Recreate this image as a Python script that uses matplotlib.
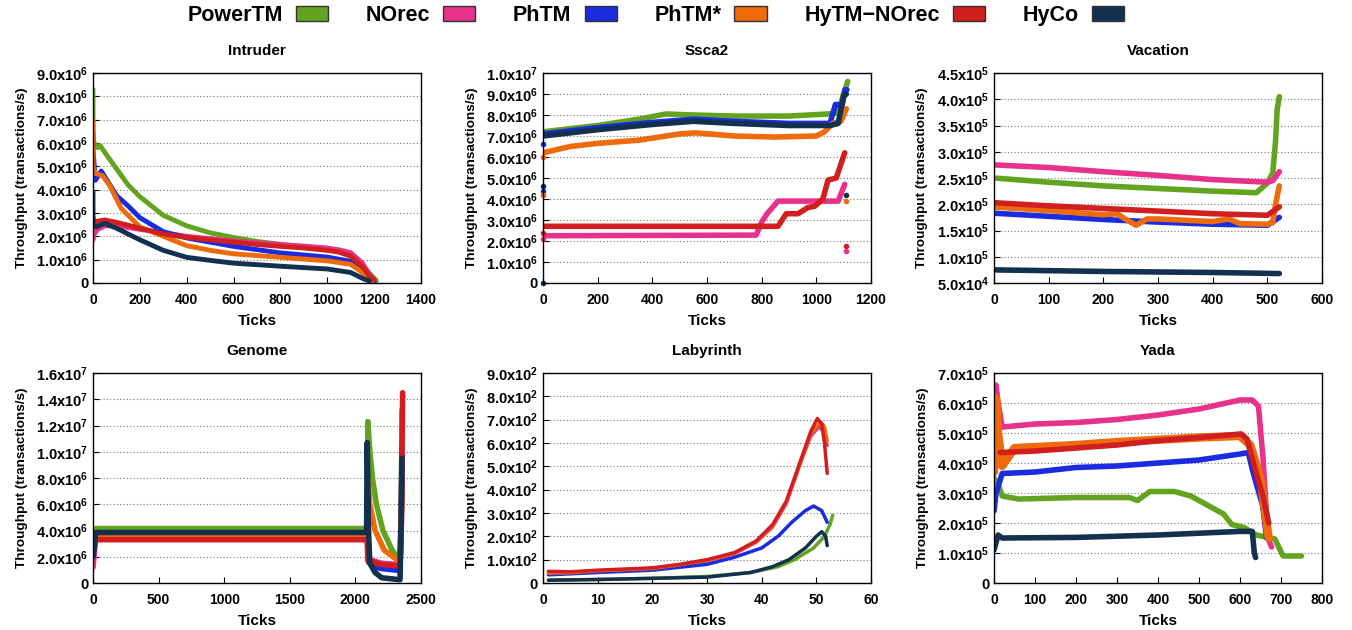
import numpy as np
import matplotlib
matplotlib.use('Agg')
import matplotlib.pyplot as plt
from matplotlib.patches import Patch
from matplotlib.ticker import FuncFormatter, MultipleLocator

plt.rcParams['font.family'] = ['Liberation Sans', 'DejaVu Sans']
plt.rcParams['font.weight'] = 'bold'
plt.rcParams['mathtext.fontset'] = 'custom'
plt.rcParams['mathtext.bf'] = 'Liberation Sans:bold'
plt.rcParams['mathtext.rm'] = 'Liberation Sans:bold'
plt.rcParams['mathtext.default'] = 'bf'

names = ['PowerTM', 'NOrec', 'PhTM', 'PhTM*', 'HyTM\u2212NOrec', 'HyCo']
colors = ['#62a420', '#e8318a', '#1a2be0', '#ee6a0a', '#d11f1f', '#13304f']

# ---- Intruder (x: ticks, y: 1e6 tx/s)
int_pow_x = [0, 0, 0, 5, 20, 30, 50, 100, 150, 200, 300, 400, 500, 600, 700, 800, 900, 1000, 1050, 1100, 1150, 1200, 1210]
int_pow_y = [8.3, 7.1, 6.2, 6.0, 5.8, 5.9, 5.6, 4.9, 4.2, 3.7, 2.9, 2.45, 2.15, 1.95, 1.78, 1.66, 1.55, 1.42, 1.35, 1.2, 0.75, 0.2, 0.1]
int_nor_x = [0, 5, 20, 50, 100, 200, 300, 400, 500, 600, 700, 800, 900, 1000, 1050, 1100, 1150, 1190, 1200]
int_nor_y = [1.85, 2.1, 2.3, 2.45, 2.45, 2.3, 2.15, 2.0, 1.9, 1.8, 1.72, 1.65, 1.58, 1.5, 1.42, 1.3, 0.85, 0.2, 0.15]
int_phtm_x = [0, 0, 10, 35, 60, 100, 150, 200, 300, 400, 600, 800, 1000, 1100, 1150, 1200]
int_phtm_y = [6.4, 5.7, 4.4, 4.8, 4.4, 3.75, 3.3, 2.8, 2.2, 1.93, 1.57, 1.29, 1.11, 0.93, 0.5, 0.07]
int_phs_x = [0, 0, 10, 40, 70, 120, 200, 300, 400, 500, 600, 800, 1000, 1100, 1170, 1195]
int_phs_y = [7.0, 5.0, 4.7, 4.6, 4.2, 3.2, 2.4, 2.0, 1.6, 1.4, 1.25, 1.1, 0.95, 0.8, 0.3, 0.1]
int_hyn_x = [0, 5, 20, 50, 100, 200, 300, 400, 500, 600, 700, 800, 900, 1000, 1050, 1100, 1150, 1180, 1200]
int_hyn_y = [2.8, 2.6, 2.65, 2.7, 2.6, 2.35, 2.1, 1.95, 1.85, 1.75, 1.65, 1.57, 1.5, 1.4, 1.32, 1.15, 0.7, 0.3, 0.15]
int_hyco_x = [0, 0, 10, 50, 100, 200, 300, 400, 500, 600, 800, 1000, 1100, 1150, 1180]
int_hyco_y = [3.9, 2.5, 2.4, 2.55, 2.35, 1.85, 1.4, 1.1, 0.97, 0.85, 0.72, 0.6, 0.45, 0.2, 0.08]

# ---- Ssca2 (1e6)
ss_pow_x = [0, 200, 350, 450, 550, 700, 900, 1040, 1080, 1100, 1115]
ss_pow_y = [7.2, 7.5, 7.8, 8.05, 8.0, 7.95, 7.95, 8.05, 8.1, 9.0, 9.6]
ss_nor_x = [0, 780, 800, 820, 860, 1080, 1104]
ss_nor_y = [2.25, 2.28, 2.9, 3.3, 3.9, 3.9, 4.7]
ss_phtm_x = [0, 200, 400, 550, 700, 900, 1050, 1070, 1095, 1105, 1112]
ss_phtm_y = [7.1, 7.4, 7.65, 7.8, 7.7, 7.6, 7.6, 8.5, 8.5, 9.2, 9.2]
ss_phs_x = [0, 100, 200, 350, 500, 560, 700, 850, 1000, 1030, 1060, 1090, 1110]
ss_phs_y = [6.2, 6.5, 6.65, 6.8, 7.1, 7.15, 7.0, 6.95, 7.0, 7.2, 7.6, 7.7, 8.3]
ss_hyn_x = [0, 860, 890, 933, 970, 994, 1024, 1043, 1073, 1104]
ss_hyn_y = [2.7, 2.7, 3.3, 3.3, 3.6, 3.65, 4.0, 4.9, 5.0, 6.2]
ss_hyco_x = [0, 200, 400, 550, 700, 900, 1050, 1080, 1100, 1110]
ss_hyco_y = [7.0, 7.3, 7.55, 7.7, 7.6, 7.5, 7.5, 7.6, 8.9, 9.0]
# stray samples (series index, x, y)
ss_out_s = [5, 5, 2, 2, 3, 3, 4, 1, 5, 3, 4, 1]
ss_out_x = [0, 0, 0, 0, 0, 0, 0, 0, 1110, 1110, 1110, 1110]
ss_out_y = [0.0, 4.6, 4.4, 6.6, 4.2, 6.0, 2.4, 2.1, 4.2, 3.9, 1.75, 1.5]

# ---- Vacation (1e5)
va_pow_x = [0, 100, 200, 300, 400, 480, 500, 510, 515, 518, 522]
va_pow_y = [2.5, 2.42, 2.35, 2.3, 2.25, 2.22, 2.4, 2.6, 3.2, 3.8, 4.05]
va_nor_x = [0, 100, 200, 300, 400, 500, 510, 522]
va_nor_y = [2.75, 2.7, 2.62, 2.55, 2.47, 2.42, 2.45, 2.62]
va_phtm_x = [0, 100, 200, 300, 400, 500, 522]
va_phtm_y = [1.83, 1.77, 1.71, 1.66, 1.62, 1.6, 1.75]
va_phs_x = [0, 100, 200, 225, 240, 260, 280, 300, 400, 430, 450, 500, 510, 515, 522]
va_phs_y = [1.95, 1.88, 1.8, 1.82, 1.72, 1.6, 1.72, 1.72, 1.67, 1.72, 1.63, 1.62, 1.65, 2.0, 2.35]
va_hyn_x = [0, 100, 200, 300, 400, 500, 522]
va_hyn_y = [2.03, 1.97, 1.92, 1.87, 1.82, 1.79, 1.95]
va_hyco_x = [0, 200, 400, 522]
va_hyco_y = [0.75, 0.72, 0.7, 0.68]

# ---- Genome (1e6)
ge_pow_x = [0, 20, 2090, 2095, 2110, 2130, 2160, 2210, 2280, 2340, 2350, 2355]
ge_pow_y = [3.5, 4.15, 4.15, 12.3, 10.0, 8.0, 6.0, 4.0, 2.5, 1.7, 6.5, 13.2]
ge_nor_x = [0, 20, 2090, 2100, 2200, 2340, 2350, 2358]
ge_nor_y = [1.2, 3.35, 3.45, 1.8, 1.5, 1.4, 4.5, 8.0]
ge_phtm_x = [0, 20, 2090, 2100, 2150, 2200, 2340, 2350, 2355]
ge_phtm_y = [2.0, 3.75, 3.75, 1.6, 1.2, 1.1, 0.95, 6.0, 10.3]
ge_phs_x = [0, 20, 2090, 2095, 2110, 2150, 2220, 2340, 2350, 2355]
ge_phs_y = [2.5, 3.5, 3.5, 7.9, 6.0, 4.0, 2.5, 1.6, 5.5, 7.0]
ge_hyn_x = [0, 20, 2090, 2095, 2200, 2340, 2350, 2360]
ge_hyn_y = [2.5, 3.3, 3.3, 1.7, 1.4, 1.3, 4.5, 14.5]
ge_hyco_x = [0, 20, 2085, 2090, 2100, 2110, 2150, 2200, 2340, 2350, 2355]
ge_hyco_y = [2.0, 3.85, 3.85, 10.7, 4.0, 1.5, 0.8, 0.4, 0.25, 5.5, 9.5]

# ---- Labyrinth (tx/s)
lab_pow_x = [1, 10, 20, 30, 38, 43, 46, 49.5, 51.5, 52.5, 53]
lab_pow_y = [12, 15, 20, 28, 45, 70, 100, 150, 200, 250, 290]
lab_nor_x = [1, 5, 10, 20, 25, 30, 35, 39, 42, 44.5, 46, 47.5, 49, 50.5, 51.3, 52]
lab_nor_y = [45, 45, 52, 62, 76, 95, 125, 175, 240, 340, 440, 540, 630, 670, 650, 590]
lab_phtm_x = [1, 10, 20, 30, 35, 40, 43, 45.5, 48, 49.5, 51, 52]
lab_phtm_y = [35, 45, 55, 80, 110, 150, 200, 260, 310, 330, 310, 260]
lab_phs_x = [1, 5, 10, 20, 25, 30, 35, 39, 42, 44.5, 46, 47.5, 49, 50.8, 51.5, 52]
lab_phs_y = [42, 44, 52, 62, 78, 97, 127, 178, 245, 345, 445, 545, 640, 690, 670, 610]
lab_hyn_x = [1, 5, 10, 20, 25, 30, 35, 39, 42, 44.5, 46, 47.5, 49, 50.2, 51, 51.5, 52]
lab_hyn_y = [50, 48, 55, 65, 80, 100, 130, 180, 250, 350, 450, 550, 650, 705, 680, 600, 470]
lab_hyco_x = [1, 10, 20, 30, 38, 42, 45, 48, 50, 51, 51.7, 52]
lab_hyco_y = [12, 15, 20, 25, 45, 70, 100, 150, 200, 220, 200, 160]

# ---- Yada (1e5)
ya_pow_x = [0, 10, 20, 60, 200, 330, 350, 380, 440, 480, 520, 560, 580, 610, 640, 685, 705, 750]
ya_pow_y = [3.5, 3.3, 2.9, 2.8, 2.85, 2.85, 2.75, 3.05, 3.05, 2.9, 2.6, 2.3, 1.95, 1.85, 1.6, 1.47, 0.9, 0.9]
ya_nor_x = [0, 5, 10, 20, 100, 200, 300, 400, 500, 600, 630, 645, 652, 656, 668, 677]
ya_nor_y = [5.0, 6.6, 6.0, 5.2, 5.3, 5.35, 5.45, 5.6, 5.8, 6.1, 6.1, 5.9, 4.8, 4.2, 1.5, 1.2]
ya_phtm_x = [0, 5, 20, 100, 200, 300, 400, 500, 600, 620, 630, 640, 655, 665]
ya_phtm_y = [2.4, 3.0, 3.65, 3.7, 3.85, 3.9, 4.0, 4.1, 4.3, 4.35, 3.8, 3.3, 2.6, 1.5]
ya_phs_x = [0, 5, 10, 20, 50, 200, 300, 500, 600, 625, 650, 660, 670]
ya_phs_y = [3.7, 6.15, 5.0, 3.9, 4.5, 4.6, 4.7, 4.85, 4.9, 4.6, 3.5, 2.5, 1.5]
ya_hyn_x = [15, 100, 200, 300, 400, 500, 603, 617, 635, 644, 656, 670]
ya_hyn_y = [4.35, 4.4, 4.5, 4.6, 4.75, 4.85, 4.97, 4.8, 3.9, 3.45, 2.9, 2.0]
ya_hyco_x = [0, 10, 20, 200, 400, 600, 630, 635, 638]
ya_hyco_y = [1.1, 1.6, 1.5, 1.52, 1.6, 1.72, 1.72, 1.0, 0.85]


def sci(v, pos):
    if v <= 0:
        return '0'
    e = int(np.floor(np.log10(v * 1.0000001)))
    return '%.1fx10$^{%d}$' % (v / 10**e, e)


def panel(ax, title, xs, ys, scale, ylim, ystep, xmax, xstep, lws):
    for x, y, c, lw in zip(xs, ys, colors, lws):
        ax.plot(x, np.array(y) * scale, color=c, lw=lw,
                solid_capstyle='round', solid_joinstyle='round')
    ax.set_xlim(0, xmax)
    ax.set_ylim(*ylim)
    ax.xaxis.set_major_locator(MultipleLocator(xstep))
    ax.yaxis.set_major_locator(MultipleLocator(ystep))
    ax.yaxis.set_major_formatter(FuncFormatter(sci))
    ax.grid(axis='y', color='#777777', linestyle=(0, (1, 2)), lw=0.8)
    ax.set_axisbelow(True)
    ax.tick_params(direction='in', length=4, labelsize=10.5)
    ax.tick_params(axis='x', pad=7, labelsize=10)
    for s in ax.spines.values():
        s.set_linewidth(1.0)
    ax.set_title(title, fontsize=11, fontweight='bold', pad=13)
    ax.set_xlabel('Ticks', fontsize=11, fontweight='bold', labelpad=5)
    ax.set_ylabel('Throughput (transactions/s)', fontsize=9.7, fontweight='bold', labelpad=6)


fig = plt.figure(figsize=(13.52, 6.3), dpi=100)
lefts = [0.0688, 0.4016, 0.7352]
bottoms = [0.5508, 0.0746]
w, h = 0.2426, 0.3333
axs = [[fig.add_axes([l, b, w, h]) for l in lefts] for b in bottoms]

panel(axs[0][0], 'Intruder',
      [int_pow_x, int_nor_x, int_phtm_x, int_phs_x, int_hyn_x, int_hyco_x],
      [int_pow_y, int_nor_y, int_phtm_y, int_phs_y, int_hyn_y, int_hyco_y],
      1e6, (0, 9e6), 1e6, 1400, 200, [3.5] * 6)
panel(axs[0][1], 'Ssca2',
      [ss_pow_x, ss_nor_x, ss_phtm_x, ss_phs_x, ss_hyn_x, ss_hyco_x],
      [ss_pow_y, ss_nor_y, ss_phtm_y, ss_phs_y, ss_hyn_y, ss_hyco_y],
      1e6, (0, 1e7), 1e6, 1200, 200, [4] * 6)
for s, x, y in zip(ss_out_s, ss_out_x, ss_out_y):
    axs[0][1].plot(x, y * 1e6, 'o', color=colors[s], ms=3, clip_on=False)
panel(axs[0][2], 'Vacation',
      [va_pow_x, va_nor_x, va_phtm_x, va_phs_x, va_hyn_x, va_hyco_x],
      [va_pow_y, va_nor_y, va_phtm_y, va_phs_y, va_hyn_y, va_hyco_y],
      1e5, (5e4, 4.5e5), 5e4, 600, 100, [4] * 6)
panel(axs[1][0], 'Genome',
      [ge_pow_x, ge_nor_x, ge_phtm_x, ge_phs_x, ge_hyn_x, ge_hyco_x],
      [ge_pow_y, ge_nor_y, ge_phtm_y, ge_phs_y, ge_hyn_y, ge_hyco_y],
      1e6, (0, 1.6e7), 2e6, 2500, 500, [4] * 6)
panel(axs[1][1], 'Labyrinth',
      [lab_pow_x, lab_nor_x, lab_phtm_x, lab_phs_x, lab_hyn_x, lab_hyco_x],
      [lab_pow_y, lab_nor_y, lab_phtm_y, lab_phs_y, lab_hyn_y, lab_hyco_y],
      1, (0, 900), 100, 60, 10, [2.5] * 6)
# the PhTM* samples in Yada scatter widely, so that band is drawn a bit wider
panel(axs[1][2], 'Yada',
      [ya_pow_x, ya_nor_x, ya_phtm_x, ya_phs_x, ya_hyn_x, ya_hyco_x],
      [ya_pow_y, ya_nor_y, ya_phtm_y, ya_phs_y, ya_hyn_y, ya_hyco_y],
      1e5, (0, 7e5), 1e5, 800, 100, [4, 4, 4, 6, 4, 4])

handles = [Patch(facecolor=c, edgecolor='#333333', lw=1) for c in colors]
fig.legend(handles, names, loc='center', bbox_to_anchor=(0.485, 0.975), ncol=6,
           frameon=False, markerfirst=False, handlelength=1.5,
           handleheight=0.7, handletextpad=0.6, columnspacing=1.75,
           prop={'weight': 'bold', 'size': 15.5})

fig.savefig('out.png', dpi=100)
